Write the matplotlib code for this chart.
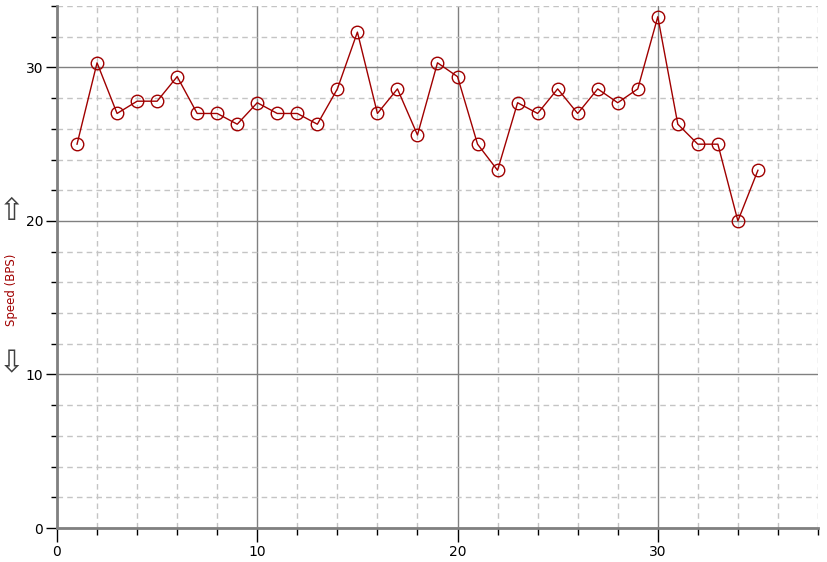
import matplotlib
matplotlib.use("Agg")
import matplotlib.pyplot as plt
from matplotlib.ticker import MultipleLocator

x_vals = list(range(1, 36))
speed = [25.0, 30.3, 27.0, 27.8, 27.8, 29.4, 27.0, 27.0, 26.3, 27.7,
         27.0, 27.0, 26.3, 28.6, 32.3, 27.0, 28.6, 25.6, 30.3, 29.4,
         25.0, 23.3, 27.7, 27.0, 28.6, 27.0, 28.6, 27.7, 28.6, 33.3,
         26.3, 25.0, 25.0, 20.0, 23.3]
y_label = "Speed (BPS)"

W, H = 828, 562
fig = plt.figure(figsize=(W/100, H/100), dpi=100)
ax = fig.add_axes([57/W, (H-528)/H, (818-57)/W, (528-6)/H])
ax.set_xlim(0, 38)
ax.set_ylim(0, 34)

ax.xaxis.set_major_locator(MultipleLocator(10))
ax.xaxis.set_minor_locator(MultipleLocator(2))
ax.yaxis.set_major_locator(MultipleLocator(10))
ax.yaxis.set_minor_locator(MultipleLocator(2))

ax.grid(which='minor', color='#c4c4c4', linestyle=(0, (4, 3)), linewidth=1)
ax.grid(which='major', color='#808080', linestyle='-', linewidth=1)
ax.set_axisbelow(True)

for s in ['top', 'right']:
    ax.spines[s].set_visible(False)
for s in ['left', 'bottom']:
    ax.spines[s].set_color('#808080')
    ax.spines[s].set_linewidth(2)

ax.tick_params(axis='y', which='major', length=8, width=1, color='black', labelsize=10, pad=2)
ax.tick_params(axis='y', which='minor', length=4, width=1, color='black')
ax.tick_params(axis='x', which='major', length=10, width=1, color='black', labelsize=10, pad=2)
ax.tick_params(axis='x', which='minor', length=5, width=1, color='black')

ax.plot(x_vals, speed, color='#a00000', linewidth=1, marker='o', markersize=9,
        markerfacecolor='none', markeredgecolor='#a00000', markeredgewidth=1, zorder=3)

fig.text(12/W, 1-290/H, y_label, rotation=90, color='#a00000', fontsize=8.5,
         ha='center', va='center')
fig.text(12/W, 1-212/H, "⇧", color='#404040', fontsize=22, ha='center', va='center')
fig.text(12/W, 1-364/H, "⇩", color='#404040', fontsize=22, ha='center', va='center')

fig.savefig("out.png", dpi=100)
